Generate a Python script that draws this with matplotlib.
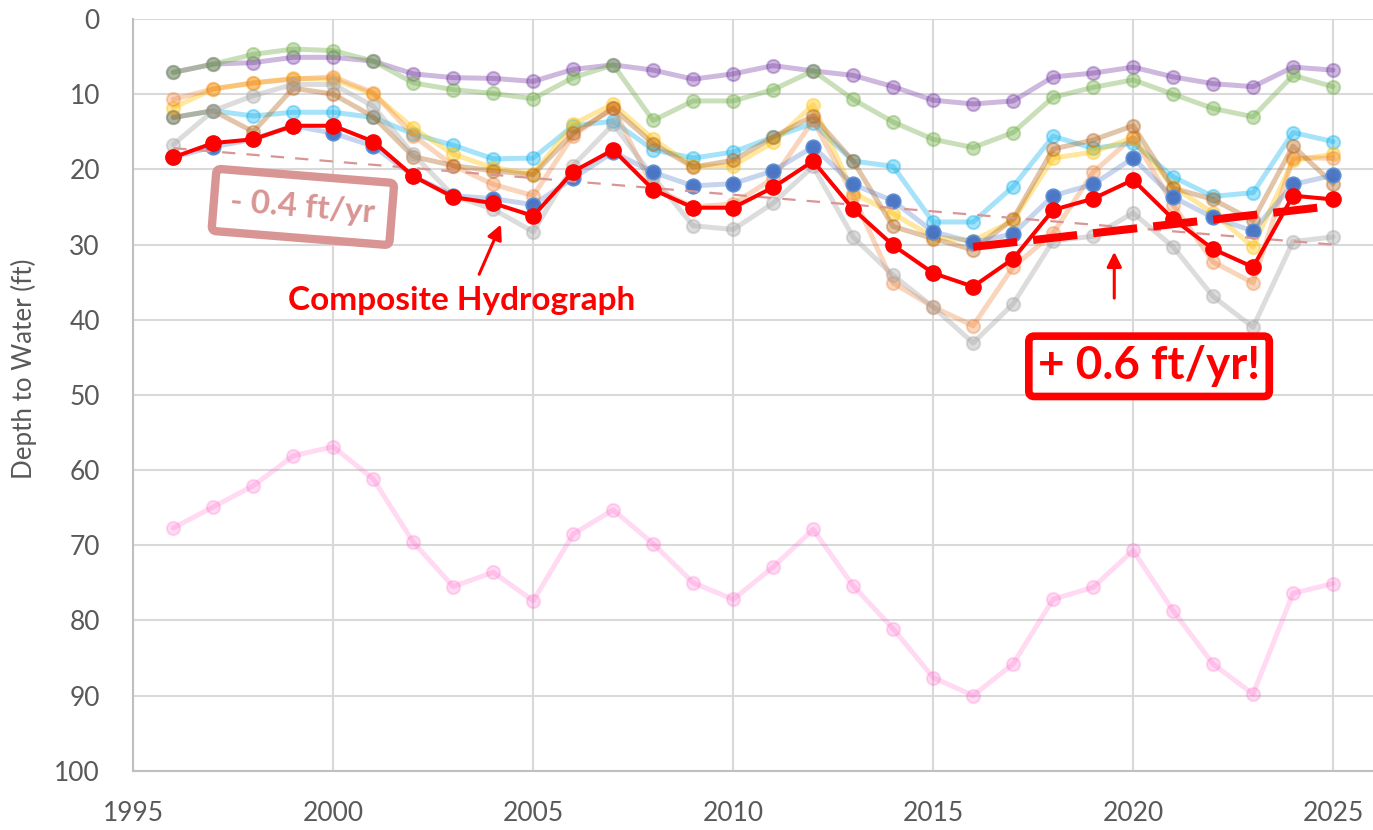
import numpy as np
import matplotlib
matplotlib.use('Agg')
import matplotlib.pyplot as plt

plt.rcParams['font.family'] = ['Lato', 'DejaVu Sans']

# Years of record
years = list(range(1996, 2026))

# Individual well hydrographs (depth to water, ft)
well_purple = [7.1, 6.0, 5.8, 5.1, 5.1, 5.6, 7.3, 7.8, 7.9, 8.3, 6.7, 6.1, 6.8, 8.0, 7.3,
               6.2, 6.9, 7.5, 9.0, 10.8, 11.3, 10.9, 7.7, 7.2, 6.4, 7.7, 8.6, 9.0, 6.4, 6.8]
well_green = [7.1, 6.0, 4.7, 4.0, 4.2, 5.6, 8.5, 9.4, 9.9, 10.6, 7.8, 6.1, 13.5, 10.9, 10.9,
              9.4, 6.9, 10.7, 13.7, 16.0, 17.1, 15.1, 10.4, 9.1, 8.1, 10.0, 11.9, 13.0, 7.5, 9.0]
well_cyan = [13.1, 12.2, 12.9, 12.4, 12.4, 13.1, 15.3, 16.8, 18.6, 18.5, 14.2, 13.6, 17.4, 18.5, 17.7,
             15.7, 13.9, 18.9, 19.6, 27.0, 27.0, 22.3, 15.6, 17.2, 16.5, 21.0, 23.6, 23.1, 15.1, 16.3]
well_gold = [11.8, 9.3, 8.5, 7.9, 8.0, 10.0, 14.5, 18.0, 19.8, 20.6, 14.0, 11.3, 16.0, 19.6, 19.5,
             16.4, 11.4, 23.1, 25.9, 29.0, 29.5, 26.8, 18.5, 17.7, 15.8, 22.3, 25.8, 30.3, 18.8, 18.0]
well_orange = [10.7, 9.3, 8.5, 8.0, 7.7, 9.8, 15.5, 19.5, 22.0, 23.5, 15.5, 11.8, 22.5, 25.0, 24.6,
               21.2, 13.5, 23.5, 35.1, 38.3, 40.8, 33.0, 28.5, 20.4, 15.7, 24.7, 32.3, 35.1, 18.5, 18.5]
well_brown = [13.1, 12.2, 15.0, 9.2, 10.0, 13.0, 18.3, 19.5, 20.2, 20.7, 15.2, 11.9, 16.6, 19.7, 18.8,
              15.7, 12.9, 18.9, 27.6, 29.2, 30.7, 26.6, 17.3, 16.1, 14.2, 22.5, 24.0, 26.8, 16.9, 21.9]
well_gray = [16.7, 12.2, 10.2, 8.7, 8.7, 11.6, 18.0, 23.5, 25.3, 28.3, 19.5, 14.0, 21.0, 27.5, 28.0,
             24.5, 19.6, 29.0, 34.1, 38.3, 43.1, 37.9, 29.5, 28.9, 25.8, 30.3, 36.9, 41.0, 29.6, 29.0]
well_blue = [18.4, 17.0, 16.0, 14.2, 15.2, 16.9, 20.9, 23.5, 23.9, 24.7, 21.2, 17.7, 20.4, 22.2, 21.9,
             20.2, 17.0, 22.0, 24.2, 28.3, 29.7, 28.6, 23.5, 22.0, 18.5, 23.7, 26.4, 28.2, 22.0, 20.8]
well_pink = [67.7, 64.9, 62.1, 58.1, 56.9, 61.2, 69.6, 75.5, 73.6, 77.4, 68.5, 65.3, 69.8, 75.0, 77.2,
             72.9, 67.9, 75.4, 81.1, 87.6, 90.0, 85.8, 77.2, 75.6, 70.7, 78.7, 85.8, 89.8, 76.4, 75.1]

# Composite hydrograph
composite = [18.4, 16.5, 16.0, 14.2, 14.2, 16.3, 20.9, 23.7, 24.5, 26.2, 20.3, 17.4, 22.7, 25.1, 25.1,
             22.4, 18.9, 25.3, 30.1, 33.8, 35.6, 31.9, 25.4, 23.9, 21.4, 26.6, 30.6, 33.0, 23.5, 24.0]

recent_start = 2016

fig = plt.figure(figsize=(13.73, 8.30), dpi=100)
ax = fig.add_axes([0.0971, 0.0714, 0.9029, 0.9057])

faint = [
    (well_purple, '#7030A0', 0.34),
    (well_green, '#70AD47', 0.38),
    (well_cyan, '#00B0F0', 0.35),
    (well_gold, '#FFC000', 0.38),
    (well_orange, '#ED7D31', 0.32),
    (well_brown, '#B5651D', 0.38),
    (well_gray, '#A5A5A5', 0.38),
    (well_pink, '#FF66CC', 0.24),
]
for vals, col, a in faint:
    ax.plot(years, vals, '-', color=col, alpha=a, lw=3.6, zorder=2,
            marker='o', ms=9.5, mfc=col, mec=col, mew=1.5, solid_capstyle='round')

# blue well: faint line, solid markers
ax.plot(years, well_blue, '-', color='#4472C4', alpha=0.3, lw=3.6, zorder=3)
ax.plot(years, well_blue, 'o', color='#4472C4', alpha=0.95, ms=10.5, mec='#5B8FD6', mew=1.2, zorder=3)

# long-term trend of composite
yrs = np.array(years)
comp = np.array(composite)
p_all = np.polyfit(yrs, comp, 1)
ax.plot(yrs[[0, -1]], np.polyval(p_all, yrs[[0, -1]]), color='#D99594', lw=1.6,
        dashes=(6, 5), zorder=4)

# composite
ax.plot(years, composite, '-o', color='#FF0000', lw=2.9, ms=11, zorder=6)

# recent trend
m = yrs >= recent_start
p_rec = np.polyfit(yrs[m], comp[m], 1)
ax.plot(yrs[m][[0, -1]], np.polyval(p_rec, yrs[m][[0, -1]]), color='#FF0000', lw=5.8,
        dashes=(5.5, 2), zorder=7, solid_capstyle='butt')

# annotations
ax.text(1999.24, 25.0, '- 0.4 ft/yr', color='#D99594', fontsize=24, fontweight='bold',
        ha='center', va='center', rotation=-4.6, zorder=8,
        bbox=dict(boxstyle='round,pad=0.5,rounding_size=0.15', fc='white', ec='#D99594', lw=6))
ax.text(2003.22, 37.4, 'Composite Hydrograph', color='#FF0000', fontsize=24, fontweight='bold',
        ha='center', va='center', zorder=8)
ax.annotate('', xy=(2004.22, 27.0), xytext=(2003.62, 34.3),
            arrowprops=dict(arrowstyle='-|>', color='#FF0000', lw=2.2, mutation_scale=22), zorder=8)
ax.text(2020.4, 46.2, '+ 0.6 ft/yr!', color='#FF0000', fontsize=33, fontweight='bold',
        ha='center', va='center', zorder=8,
        bbox=dict(boxstyle='round,pad=0.2,rounding_size=0.12', fc='white', ec='#FF0000', lw=5.5))
ax.annotate('', xy=(2019.53, 30.6), xytext=(2019.53, 37.5),
            arrowprops=dict(arrowstyle='-|>', color='#FF0000', lw=2.2, mutation_scale=22), zorder=8)

ax.set_xlim(1995, 2026)
ax.set_ylim(100, 0)
ax.set_xticks(range(1995, 2026, 5))
ax.set_yticks(range(0, 101, 10))
ax.grid(True, color='#D9D9D9', lw=1.5)
ax.set_axisbelow(True)
for s in ['top', 'right']:
    ax.spines[s].set_visible(False)
for s in ['left', 'bottom']:
    ax.spines[s].set_color('#BFBFBF')
    ax.spines[s].set_linewidth(1.5)
ax.tick_params(length=0, labelsize=19, colors='#595959')
ax.tick_params(axis='y', pad=24)
ax.tick_params(axis='x', pad=22)
ax.set_ylabel('Depth to Water (ft)', fontsize=18.7, color='#595959')
ax.yaxis.set_label_coords(-0.078, 0.535)

fig.savefig('out.png', dpi=100)
